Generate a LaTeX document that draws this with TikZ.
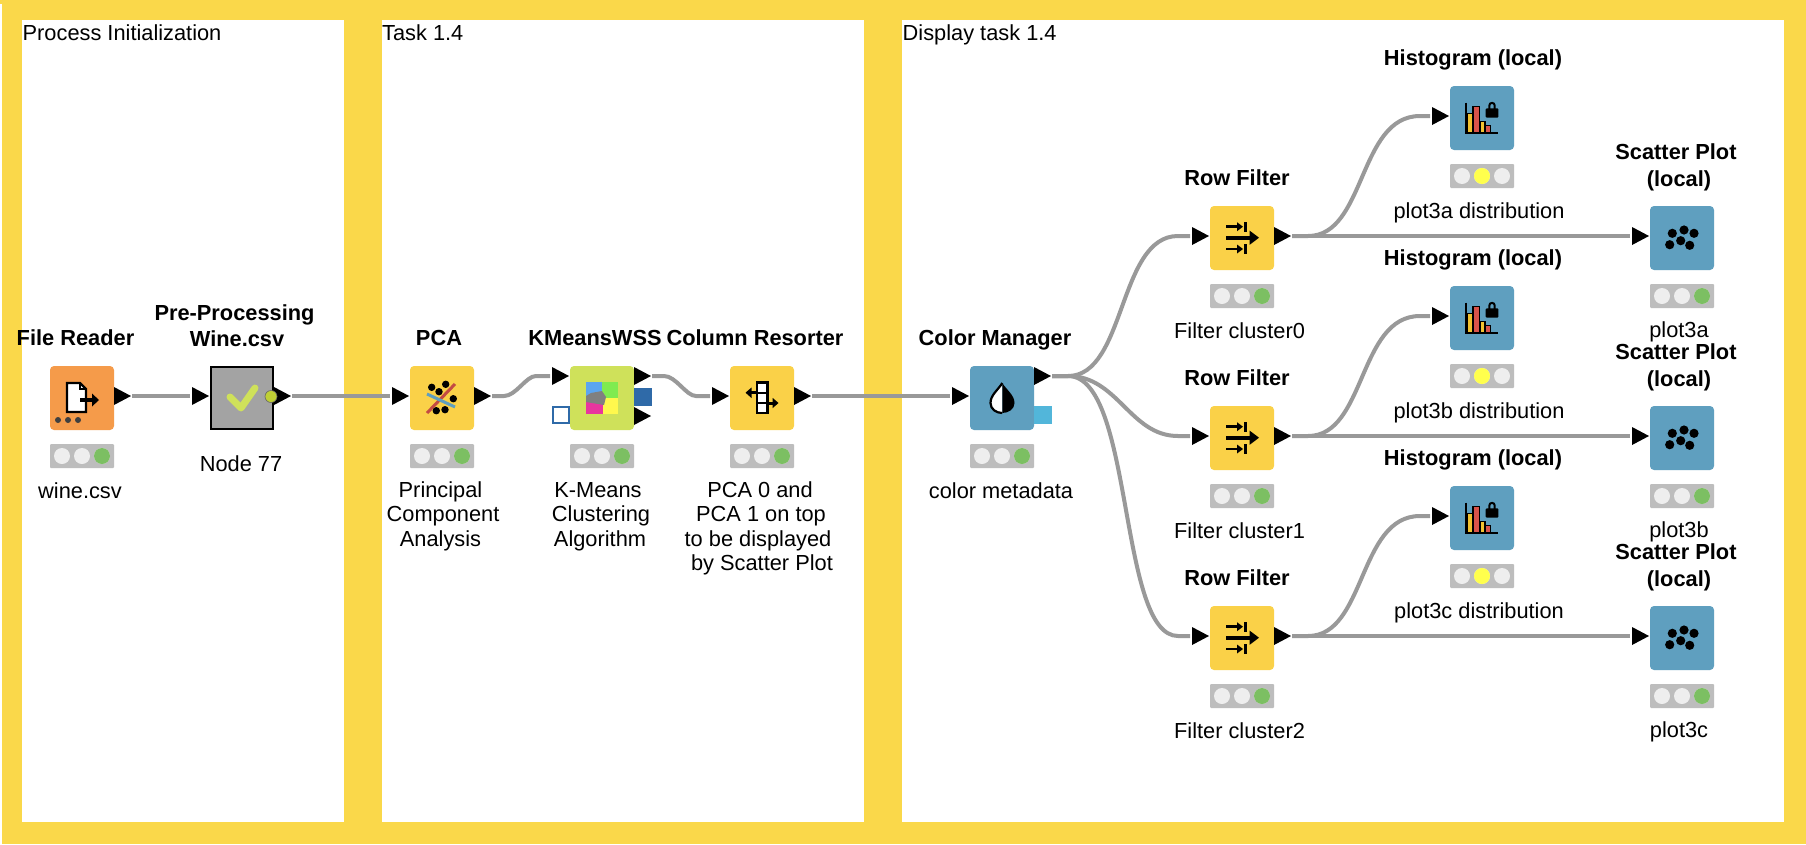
\documentclass[tikz,border=0pt]{standalone}
\usepackage{fontspec}
\setmainfont{Liberation Sans}
\usetikzlibrary{calc}
\definecolor{frameY}{HTML}{FAD84A}
\definecolor{wireG}{HTML}{999999}
\definecolor{kOrange}{HTML}{F59B4A}
\definecolor{kYellow}{HTML}{FAD148}
\definecolor{kGreen}{HTML}{CFE15A}
\definecolor{kBlue}{HTML}{5F9FBF}
\definecolor{kGrey}{HTML}{A3A3A3}
\definecolor{stGrey}{HTML}{BDBDBD}
\definecolor{stOff}{HTML}{EEEEEE}
\definecolor{stGreen}{HTML}{7CBF62}
\definecolor{stYellow}{HTML}{FFFF4D}
\definecolor{barY}{HTML}{F2C230}
\definecolor{barR}{HTML}{D9534A}
\definecolor{flowB}{HTML}{2F6AA8}
\definecolor{colB}{HTML}{52B6DA}
\definecolor{vB}{HTML}{5BA5F0}
\definecolor{vG}{HTML}{7FEB50}
\definecolor{vP}{HTML}{E8359E}
\definecolor{vY}{HTML}{FFF84D}
\definecolor{vK}{HTML}{808080}
\definecolor{dotC}{HTML}{BFCF35}
\tikzset{
  kbox/.style={rectangle,rounded corners=4pt,minimum size=64pt,inner sep=0pt,draw=none},
  wire/.style={draw=wireG,line width=4pt},
  boldlabel/.style={anchor=base,inner sep=0pt,font=\fontsize{21.8}{24}\selectfont\bfseries},
  plainlabel/.style={anchor=base,inner sep=0pt,font=\fontsize{21.8}{24}\selectfont},
  paneltext/.style={anchor=base west,inner sep=0pt,font=\fontsize{21.8}{24}\selectfont},
  panel/.style={fill=white,draw=none},
}
% #1 name, #2 x, #3 y, #4 colour, #5 icon, #6 middle/green light
\newcommand{\knode}[6]{%
  \node[kbox,fill=#4] (#1) at (#2+32,#3+32) {};
  \begin{scope}[shift={(#2,#3)}]#5\end{scope}
  \statuslights{#1}{#2}{#3}{#6}}
\newcommand{\statuslights}[4]{%
  \begin{scope}[shift={(#2,#3)}]
    \fill[stGrey,rounded corners=1pt] (0,78) rectangle (64,102);
    \fill[stOff] (12,90) circle (8pt);
    \fill[stOff] (32,90) circle (8pt);
    \fill[stOff] (52,90) circle (8pt);
    \ifnum#4=1 \fill[stYellow] (32,90) circle (8pt);\else\fill[stGreen] (52,90) circle (8pt);\fi
  \end{scope}}
\newcommand{\inport}[3]{%
  \fill (#2-18,#3-9) -- (#2-1,#3) -- (#2-18,#3+9) -- cycle;
  \coordinate (#1) at (#2-20,#3);}
\newcommand{\outport}[3]{%
  \fill (#2,#3-9) -- (#2+17,#3) -- (#2,#3+9) -- cycle;
  \coordinate (#1) at (#2+18,#3);}
\newcommand{\iconFile}{%
  \draw[line width=2.4pt,fill=white,line join=miter] (17,17) -- (30,17) -- (36,23) -- (36,46) -- (17,46) -- cycle;
  \draw[line width=1.6pt] (30,17) -- (30,23) -- (36,23);
  \draw[line width=3.2pt] (30,34) -- (44,34);
  \fill (42,27.5) -- (49,34) -- (42,40.5) -- cycle;
  \foreach \q in {8,18,28}{\fill[black!75] (\q,54) circle (3pt);}}
\newcommand{\iconCheck}{%
  \draw[line width=7pt,line cap=round,line join=round,color=kGreen] (20,31) -- (31,42) -- (45,22);}
\newcommand{\iconPCA}{%
  \draw[line width=3pt,color=barR!90!black] (17,47) -- (45,18);
  \draw[line width=3pt,color=kBlue] (17,28) -- (45,41);
  \foreach \p/\q in {21.7/21.3,35.7/18.3,29/25.7,43.3/32.7,26.3/44.7,35/43.7}{\fill (\p,\q) circle (3.7pt);}}
\newcommand{\iconKMeans}{%
  \fill[vB] (16,16) rectangle (32.5,32);
  \fill[vG] (32,16) rectangle (48,32);
  \fill[vP] (16,32) rectangle (33,48);
  \fill[vY] (33,32) rectangle (48,48);
  \fill[vK] (16,30) -- (21,27) -- (32,25) -- (36,31) -- (34,39) -- (16,36) -- cycle;}
\newcommand{\iconResort}{%
  \draw[line width=2.4pt,fill=white] (27,16.5) rectangle (37.5,47);
  \draw[line width=2.4pt] (27,26.7) -- (37.5,26.7) (27,37) -- (37.5,37);
  \draw[line width=3pt] (20,26.7) -- (27,26.7) (37.5,37) -- (44,37);
  \fill (15.5,26.7) -- (21.5,21.5) -- (21.5,32) -- cycle;
  \fill (48.5,37) -- (42.5,31.8) -- (42.5,42.2) -- cycle;}
\newcommand{\iconDrop}{%
  \fill[white] (32.3,17) .. controls (28,24) and (20.5,29) .. (20.5,37) .. controls (20.5,43) and (26,47) .. (32.3,47) -- cycle;
  \fill[black] (32.3,17) .. controls (36.6,24) and (44.5,29) .. (44.5,37) .. controls (44.5,43) and (38.6,47) .. (32.3,47) -- cycle;
  \draw[line width=2.2pt] (32.3,17) .. controls (28,24) and (20.5,29) .. (20.5,37) .. controls (20.5,43) and (26,47) .. (32.3,47);}
\newcommand{\iconRow}{%
  \draw[line width=2.6pt] (16,20.7) -- (29,20.7);
  \fill (33,20.7) -- (27,16.2) -- (27,25.2) -- cycle;
  \draw[line width=2.8pt] (35.5,16) -- (35.5,26);
  \draw[line width=4.2pt] (16,31.7) -- (42,31.7);
  \fill (49,31.7) -- (39.5,24.5) -- (39.5,38.9) -- cycle;
  \draw[line width=2.6pt] (16,43) -- (29,43);
  \fill (33,43) -- (27,38.5) -- (27,47.5) -- cycle;
  \draw[line width=2.8pt] (35.5,38) -- (35.5,48);}
\newcommand{\iconHist}{%
  \draw[line width=1.4pt,fill=barY] (17.7,27.3) rectangle (22.5,46.7);
  \draw[line width=1.4pt,fill=barR] (23,20.7) rectangle (29.3,46.7);
  \draw[line width=1.4pt,fill=barY] (29.8,35.7) rectangle (35,46.7);
  \draw[line width=1.4pt,fill=barR] (35.5,39.7) rectangle (40.7,46.7);
  \draw[line width=2pt] (16.3,16.7) -- (16.3,46.9) -- (48,46.9);
  \draw[line width=2pt] (39.3,23) -- (39.3,19.5) .. controls (39.3,16) and (44.7,16) .. (44.7,19.5) -- (44.7,23);
  \fill[rounded corners=1pt] (35.7,22.3) rectangle (48.3,31.7);}
\newcommand{\iconScatter}{%
  \foreach \p/\q in {22.3/27.3,34/24,44/27.3,30.7/34.7,19.7/38.7,39.7/39.3}{\fill (\p,\q) circle (4.6pt);}}
\begin{document}
\begin{tikzpicture}[x=1pt,y=-1pt]
\useasboundingbox (0,0) rectangle (1806,844);
\fill[white] (0,0) rectangle (1806,844);
\fill[frameY] (2,0) rectangle (1806,844);
\fill[frameY] (0,0) rectangle (2,4);
\fill[panel] (22,20) rectangle (344,822);
\fill[panel] (382,20) rectangle (864,822);
\fill[panel] (902,20) rectangle (1784,822);
\node[paneltext] (p1) at (22.5,40) {Process Initialization};
\node[paneltext] (p2) at (382,40) {Task 1.4};
\node[paneltext] (p3) at (902.5,40) {Display task 1.4};

% ---- workflow boxes
\knode{fr}{50}{366}{kOrange}{\iconFile}{0}
\node[kbox,rounded corners=0pt,minimum size=62pt,fill=kGrey,draw=black,line width=2pt] (pp) at (242,398) {};
\begin{scope}[shift={(210,366)}]\iconCheck\end{scope}
\knode{pca}{410}{366}{kYellow}{\iconPCA}{0}
\knode{km}{570}{366}{kGreen}{\iconKMeans}{0}
\knode{cr}{730}{366}{kYellow}{\iconResort}{0}
\knode{cm}{970}{366}{kBlue}{\iconDrop}{0}
\knode{rfa}{1210}{206}{kYellow}{\iconRow}{0}
\knode{rfb}{1210}{406}{kYellow}{\iconRow}{0}
\knode{rfc}{1210}{606}{kYellow}{\iconRow}{0}
\knode{ha}{1450}{86}{kBlue}{\iconHist}{1}
\knode{hb}{1450}{286}{kBlue}{\iconHist}{1}
\knode{hc}{1450}{486}{kBlue}{\iconHist}{1}
\knode{sa}{1650}{206}{kBlue}{\iconScatter}{0}
\knode{sb}{1650}{406}{kBlue}{\iconScatter}{0}
\knode{sc}{1650}{606}{kBlue}{\iconScatter}{0}

% ---- ports
\outport{fro}{114}{396}
\inport{ppi}{210}{396}
\outport{ppo}{274}{396}
\fill[dotC,draw=black!60,line width=.6pt] (271,396.5) circle (6pt);
\inport{pcai}{410}{396}
\outport{pcao}{474}{396}
\inport{kmi}{570}{376}
\outport{kmo}{634}{376}
\fill[flowB] (634,388) rectangle (652,406);
\outport{kmp}{634}{416}
\draw[flowB,line width=1.5pt,fill=white] (552.75,406.75) rectangle (569,423);
\inport{cri}{730}{396}
\outport{cro}{794}{396}
\inport{cmi}{970}{396}
\outport{cmo}{1034}{376}
\fill[colB] (1034,406) rectangle (1052,424);
\inport{rfai}{1210}{236}
\outport{rfao}{1274}{236}
\inport{rfbi}{1210}{436}
\outport{rfbo}{1274}{436}
\inport{rfci}{1210}{636}
\outport{rfco}{1274}{636}
\inport{hai}{1450}{116}
\inport{hbi}{1450}{316}
\inport{hci}{1450}{516}
\inport{sai}{1650}{236}
\inport{sbi}{1650}{436}
\inport{sci}{1650}{636}

% ---- connectors
\draw[wire] (fro) -- (ppi);
\draw[wire] (ppo) -- (pcai);
\draw[wire] (pcao) -- ++(12,0) .. controls +(12,0) and ($(kmi)+(-24,0)$) .. ($(kmi)+(-14,0)$) -- (kmi);
\draw[wire] (kmo) -- ++(12,0) .. controls +(12,0) and ($(cri)+(-24,0)$) .. ($(cri)+(-14,0)$) -- (cri);
\draw[wire] (cro) -- (cmi);
\draw[wire] (cmo) -- ++(16,0) .. controls +(58,0) and ($(rfai)+(-72,0)$) .. ($(rfai)+(-12,0)$) -- (rfai);
\draw[wire] (cmo) -- ++(16,0) .. controls +(50,0) and ($(rfbi)+(-60,0)$) .. ($(rfbi)+(-12,0)$) -- (rfbi);
\draw[wire] (cmo) -- ++(16,0) .. controls +(66,0) and ($(rfci)+(-72,0)$) .. ($(rfci)+(-12,0)$) -- (rfci);
\draw[wire] (rfao) -- (sai);
\draw[wire] (rfbo) -- (sbi);
\draw[wire] (rfco) -- (sci);
\draw[wire] (rfao) -- ++(16,0) .. controls +(58,0) and ($(hai)+(-72,0)$) .. ($(hai)+(-10,0)$) -- (hai);
\draw[wire] (rfbo) -- ++(16,0) .. controls +(58,0) and ($(hbi)+(-72,0)$) .. ($(hbi)+(-10,0)$) -- (hbi);
\draw[wire] (rfco) -- ++(16,0) .. controls +(58,0) and ($(hci)+(-72,0)$) .. ($(hci)+(-10,0)$) -- (hci);

% ---- titles
\node[boldlabel] (t1) at (75.5,345) {File Reader};
\node[boldlabel] (t2a) at (234.5,320) {Pre-Processing};
\node[boldlabel] (t2b) at (237,346) {Wine.csv};
\node[boldlabel] (t3) at (439,345) {PCA};
\node[boldlabel] (t4) at (595,345) {KMeansWSS};
\node[boldlabel] (t5) at (755,345) {Column Resorter};
\node[boldlabel] (t6) at (995,345) {Color Manager};
\node[boldlabel] (t7a) at (1237,185.5) {Row Filter};
\node[boldlabel] (t7b) at (1237,385.5) {Row Filter};
\node[boldlabel] (t7c) at (1237,585.5) {Row Filter};
\node[boldlabel] (t8a) at (1473,65.5) {Histogram (local)};
\node[boldlabel] (t8b) at (1473,265.5) {Histogram (local)};
\node[boldlabel] (t8c) at (1473,465.5) {Histogram (local)};
\node[boldlabel] (t9a) at (1676,159.5) {Scatter Plot};
\node[boldlabel] (t9aa) at (1679,186.5) {(local)};
\node[boldlabel] (t9b) at (1676,359.5) {Scatter Plot};
\node[boldlabel] (t9ba) at (1679,386.5) {(local)};
\node[boldlabel] (t9c) at (1676,559.5) {Scatter Plot};
\node[boldlabel] (t9ca) at (1679,586.5) {(local)};

% ---- captions
\node[plainlabel] (c1) at (80,498) {wine.csv};
\node[plainlabel] (c2) at (241,471) {Node 77};
\node[plainlabel] (c3a) at (440.5,497) {Principal};
\node[plainlabel] (c3b) at (443,521.5) {Component};
\node[plainlabel] (c3c) at (440.5,546) {Analysis};
\node[plainlabel] (c4a) at (598,497) {K-Means};
\node[plainlabel] (c4b) at (601,521.5) {Clustering};
\node[plainlabel] (c4c) at (600,546) {Algorithm};
\node[plainlabel] (c5a) at (760,497) {PCA 0 and};
\node[plainlabel] (c5b) at (761,521.5) {PCA 1 on top};
\node[plainlabel] (c5c) at (758,546) {to be displayed};
\node[plainlabel] (c5d) at (762,570) {by Scatter Plot};
\node[plainlabel] (c6) at (1001,498) {color metadata};
\node[plainlabel] (c7a) at (1239.5,338) {Filter cluster0};
\node[plainlabel] (c7b) at (1239.5,538) {Filter cluster1};
\node[plainlabel] (c7c) at (1239.5,738) {Filter cluster2};
\node[plainlabel] (c8a) at (1479,218) {plot3a distribution};
\node[plainlabel] (c8b) at (1479,418) {plot3b distribution};
\node[plainlabel] (c8c) at (1479,618) {plot3c distribution};
\node[plainlabel] (c9a) at (1679,337) {plot3a};
\node[plainlabel] (c9b) at (1679,537) {plot3b};
\node[plainlabel] (c9c) at (1679,737) {plot3c};
\end{tikzpicture}
\end{document}
